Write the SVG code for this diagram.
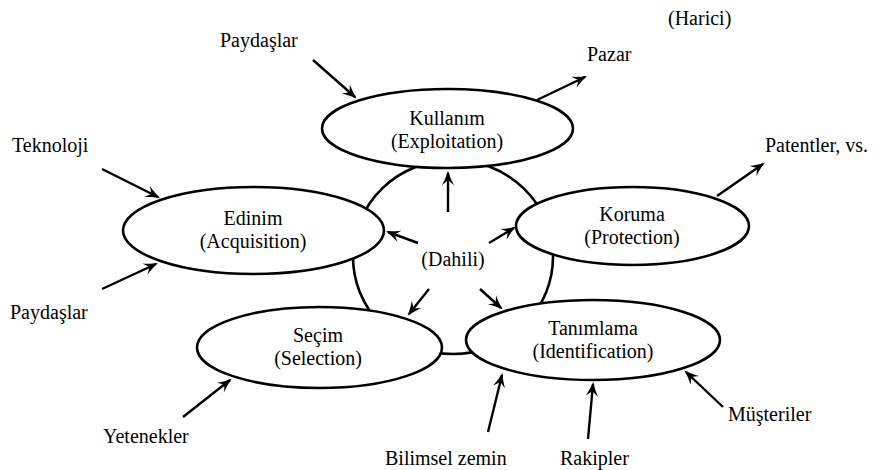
<svg xmlns="http://www.w3.org/2000/svg" width="877" height="470" viewBox="0 0 877 470">
<style>
text{font-family:'Liberation Serif','Times New Roman',serif;font-size:20px;fill:#000}
.c{text-anchor:middle}
.n{fill:#fff;stroke:#000;stroke-width:2.6}
.a{stroke:#000;stroke-width:2.4;fill:none;marker-end:url(#ah)}
</style>
<defs>
<marker id="ah" markerUnits="userSpaceOnUse" markerWidth="20" markerHeight="20" viewBox="-14 -7 18 14" refX="0" refY="0" orient="auto" overflow="visible">
<path d="M2,0 C-2,-1.2 -7,-3.2 -11,-5.5 L-6.5,0 L-11,5.5 C-7,3.2 -2,1.2 2,0 Z" fill="#000"/>
</marker>
</defs>
<g id="core">
<ellipse cx="453" cy="257" rx="100" ry="97" fill="none" stroke="#000" stroke-width="2.6"/>
</g>
<g id="kullanim">
<ellipse class="n" cx="447.5" cy="128.5" rx="125.5" ry="39.5"/>
<text class="c" x="447" y="125">Kullanım</text>
<text class="c" x="447" y="148">(Exploitation)</text>
</g>
<g id="edinim">
<ellipse class="n" cx="253.5" cy="230.5" rx="130.5" ry="43.5"/>
<text class="c" x="253" y="225">Edinim</text>
<text class="c" x="253" y="248">(Acquisition)</text>
</g>
<g id="koruma">
<ellipse class="n" cx="632.5" cy="226" rx="116.5" ry="39"/>
<text class="c" x="632" y="221">Koruma</text>
<text class="c" x="632" y="244">(Protection)</text>
</g>
<g id="secim">
<ellipse class="n" cx="319.5" cy="347.5" rx="122.5" ry="40.5"/>
<text class="c" x="318" y="342">Seçim</text>
<text class="c" x="318" y="365">(Selection)</text>
</g>
<g id="tanimlama">
<ellipse class="n" cx="593" cy="340" rx="127" ry="40"/>
<text class="c" x="593" y="335">Tanımlama</text>
<text class="c" x="593" y="358">(Identification)</text>
</g>
<g id="dahili">
<text class="c" x="453" y="266">(Dahili)</text>
</g>
<g id="labels">
<text x="668" y="25">(Harici)</text>
<text x="220" y="47">Paydaşlar</text>
<text x="587" y="61">Pazar</text>
<text x="12" y="152">Teknoloji</text>
<text x="765" y="152">Patentler, vs.</text>
<text x="10" y="319">Paydaşlar</text>
<text x="728" y="421">Müşteriler</text>
<text x="103" y="443">Yetenekler</text>
<text x="385" y="465">Bilimsel zemin</text>
<text x="560" y="465">Rakipler</text>
</g>
<g id="connectors">
<line class="a" x1="313" y1="60" x2="355" y2="97"/>
<line class="a" x1="102" y1="169" x2="158" y2="197"/>
<line class="a" x1="102" y1="289" x2="156" y2="264"/>
<line class="a" x1="183" y1="417" x2="230" y2="380"/>
<line class="a" x1="488" y1="432" x2="502" y2="375"/>
<line class="a" x1="588" y1="439" x2="593" y2="384"/>
<line class="a" x1="723" y1="407" x2="686" y2="372"/>
<line class="a" x1="537" y1="100" x2="585" y2="77"/>
<line class="a" x1="717" y1="196" x2="763" y2="164"/>
<line class="a" x1="448" y1="212" x2="448" y2="173"/>
<line class="a" x1="418" y1="243" x2="388" y2="232"/>
<line class="a" x1="489" y1="243" x2="514" y2="228"/>
<line class="a" x1="429" y1="289" x2="409" y2="314"/>
<line class="a" x1="480" y1="289" x2="501" y2="308"/>
</g>
</svg>
